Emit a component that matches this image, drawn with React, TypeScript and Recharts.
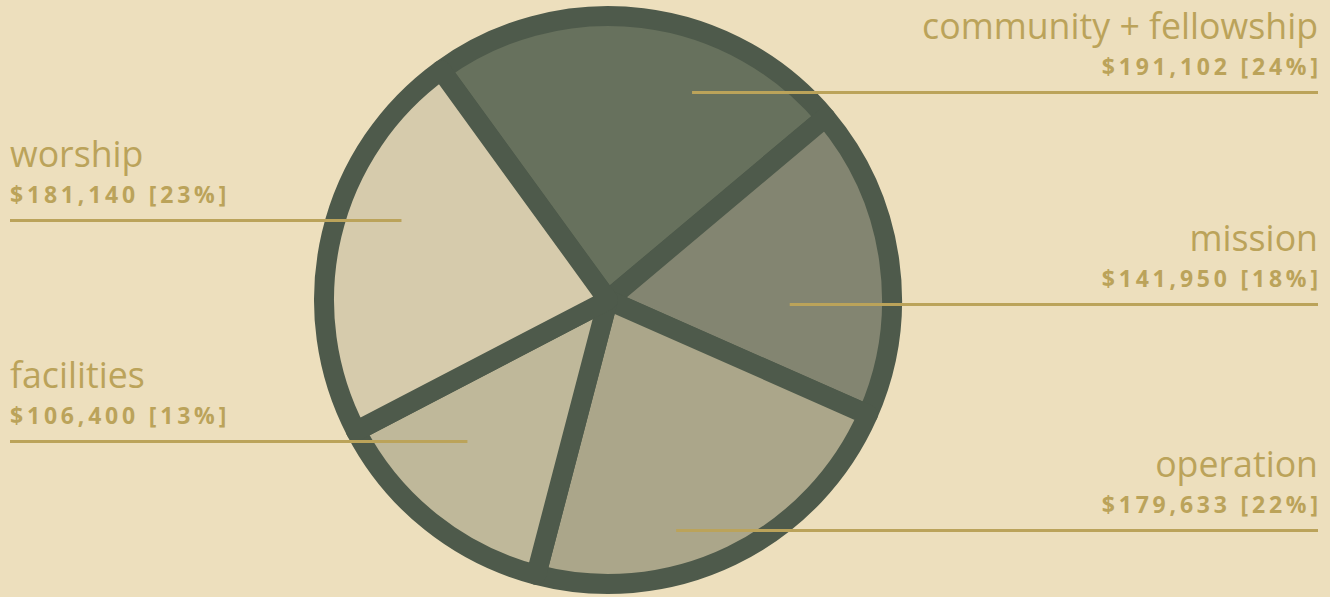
import React from "react";
import { PieChart, Pie, Cell } from "recharts";

const categories = ["community + fellowship", "mission", "operation", "facilities", "worship"];
const amounts = [191102, 141950, 179633, 106400, 181140];
const sliceColors = ["#67715d", "#838571", "#aba68a", "#bfb89a", "#d6cbac"];

// label anchor layout: angle (deg, counter-clockwise from east) and radius fraction
const anchorAngles = [68, -1.3, -73.5, -135, 158.8];
const anchorRadii = [0.79, 0.64, 0.845, 0.7, 0.78];

const data = categories.map((name, i) => ({ name, value: amounts[i] }));

const BG = "#eddfbd";
const STROKE = "#4e5a4b";
const GOLD = "#bba35a";
const W = 1330;
const H = 597;
const LEFT_X = 10;
const RIGHT_X = 1318;

const fmt = (v: number) => "$" + v.toLocaleString("en-US");

const noLig: React.CSSProperties = { fontVariantLigatures: "none", fontKerning: "normal" };

const renderLabel = (props: any) => {
  const { cx, cy, outerRadius, index, value, percent, name } = props;
  const a = (anchorAngles[index] * Math.PI) / 180;
  const r = outerRadius * anchorRadii[index];
  const x0 = cx + r * Math.cos(a);
  const y0 = Math.round(cy - r * Math.sin(a)) + 0.5;
  const right = Math.cos(a) >= 0;
  const xe = right ? RIGHT_X : LEFT_X;
  const anchor = right ? "end" : "start";
  return (
    <g key={"lbl" + index}>
      <line x1={x0} y1={y0} x2={xe} y2={y0} stroke={GOLD} strokeWidth={3} />
      <text
        x={xe}
        y={y0 - 54}
        textAnchor={anchor}
        fill={GOLD}
        fontFamily="'Open Sans', sans-serif"
        fontSize={35.7}
        fontWeight={400}
        style={noLig}
      >
        {name}
      </text>
      <text
        x={right ? xe + 3.8 : xe}
        y={y0 - 18}
        textAnchor={anchor}
        fill={GOLD}
        fontFamily="'Open Sans', sans-serif"
        fontSize={23}
        fontWeight={700}
        letterSpacing={3.8}
        style={noLig}
      >
        {fmt(value) + " [" + Math.round(percent * 100) + "%]"}
      </text>
    </g>
  );
};

export default function App() {
  return (
    <div style={{ position: "absolute", left: 0, top: 0, width: W, height: H, background: BG }}>
      <PieChart width={W} height={H} margin={{ top: 0, right: 0, bottom: 0, left: 0 }}>
        <Pie
          data={data}
          dataKey="value"
          nameKey="name"
          cx={608}
          cy={300}
          innerRadius={0}
          outerRadius={284}
          startAngle={126}
          endAngle={126 - 360}
          stroke={STROKE}
          strokeWidth={20}
          strokeLinejoin="round"
          label={renderLabel}
          labelLine={false}
          isAnimationActive={false}
        >
          {data.map((d, i) => (
            <Cell key={d.name} fill={sliceColors[i]} stroke={STROKE} strokeWidth={20} strokeLinejoin="round" />
          ))}
        </Pie>
      </PieChart>
    </div>
  );
}
